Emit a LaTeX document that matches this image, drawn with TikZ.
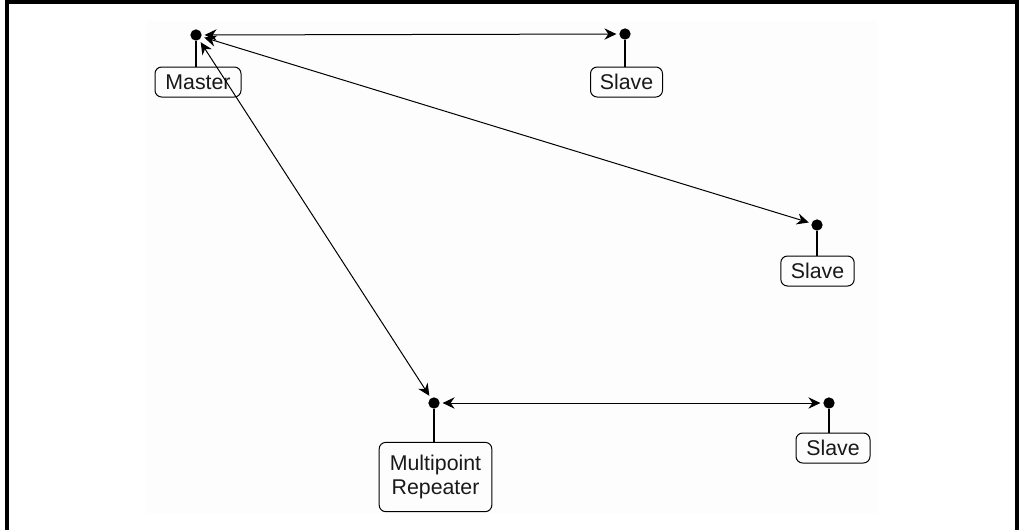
\documentclass[tikz,border=0pt]{standalone}
\usepackage{fontspec}
\setmainfont{Liberation Sans}
\usetikzlibrary{arrows.meta}
\definecolor{faintbg}{HTML}{FDFDFD}
\begin{document}
\begin{tikzpicture}[x=0.75pt,y=-0.75pt,
  dot/.style={circle,fill=black,inner sep=0pt,minimum size=8.5pt},
  station/.style={draw,line width=0.75pt,rounded corners=5pt,inner xsep=6pt,inner ysep=0pt,
    minimum height=22.5pt,font=\fontsize{16}{18}\selectfont,align=center,text=black!90},
  link/.style={line width=0.75pt,{Stealth[length=9pt,width=8.5pt,inset=3pt]}-{Stealth[length=9pt,width=8.5pt,inset=3pt]},shorten <=2pt,shorten >=2pt},
  stem/.style={line width=0.8pt}]
\useasboundingbox (0,0) rectangle (1023,529);
\fill[faintbg] (146,21) rectangle (878,513);
\draw[line width=2.4pt] (7,532) -- (7,2) -- (1017,2) -- (1017,532);
% dots
\node[dot] (dm) at (196,35) {};
\node[dot] (ds1) at (625,34) {};
\node[dot] (ds2) at (817,225) {};
\node[dot] (dr) at (434,403) {};
\node[dot] (ds3) at (829,403) {};
% boxes
\node[station,minimum width=64.5pt] (bm) at (198,82) {Master};
\node[station,minimum width=54pt] (bs1) at (626.5,82) {Slave};
\node[station,minimum width=55pt] (bs2) at (817.5,271) {Slave};
\node[station,minimum width=84.5pt,minimum height=52pt] (br) at (435.5,477) {Multipoint\\Repeater};
\node[station,minimum width=55.5pt] (bs3) at (833,448) {Slave};
% stems
\draw[stem] (dm) -- (dm |- bm.north);
\draw[stem] (ds1) -- (ds1 |- bs1.north);
\draw[stem] (ds2) -- (ds2 |- bs2.north);
\draw[stem] (dr) -- (dr |- br.north);
\draw[stem] (ds3) -- (ds3 |- bs3.north);
% links
\draw[link] (dm) -- (ds1);
\draw[link] (dm) -- (ds2);
\draw[link] (dm) -- (dr);
\draw[link] (dr) -- (ds3);
\end{tikzpicture}
\end{document}
